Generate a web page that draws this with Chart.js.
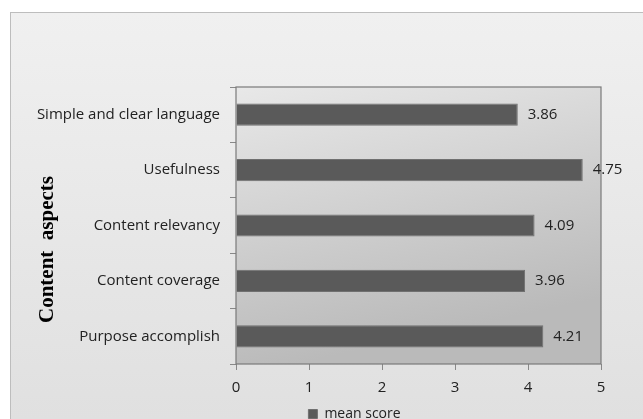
<html><head><meta charset="utf-8">
<script src="https://cdn.jsdelivr.net/npm/chart.js@4.4.0/dist/chart.umd.min.js"></script>
<style>
 body { margin:0; background:#fff; }
 #wrap { position:relative; width:643px; height:419px; }
</style>
</head>
<body>
<div id="wrap"><canvas id="myChart" width="643" height="419"></canvas></div>
<script>
var categories = ['Simple and clear language', 'Usefulness', 'Content relevancy', 'Content coverage', 'Purpose accomplish'];
var meanScore = [3.86, 4.75, 4.09, 3.96, 4.21];
var xTicks = [0, 1, 2, 3, 4, 5];
var axisTitle = 'Content  aspects';

// panel background, plot area shading and frame
var backdrop = {
  id: 'backdrop',
  afterLayout: function(chart) {
    // legend sits under the middle of the plot, not of the canvas
    chart.legend.left += 49;
    chart.legend.right += 49;
  },
  beforeDraw: function(chart) {
    var c = chart.ctx, a = chart.chartArea;
    c.save();
    var g0 = c.createLinearGradient(0, 12, 0, 419);
    g0.addColorStop(0, '#f0f0f0');
    g0.addColorStop(1, '#e0e0e0');
    c.fillStyle = g0;
    c.fillRect(10, 12, 640, 420);
    c.strokeStyle = '#bdbdbd';
    c.lineWidth = 1;
    c.strokeRect(10.5, 12.5, 640, 420);
    var g = c.createLinearGradient(a.left, a.top, a.left + 60, a.bottom);
    g.addColorStop(0, '#e8e8e8');
    g.addColorStop(1, '#bababa');
    c.fillStyle = g;
    c.fillRect(a.left, a.top, a.right - a.left, a.bottom - a.top);
    // y axis title, a little below the plot centre as in the original
    c.translate(48, (a.top + a.bottom) / 2 + 24);
    c.rotate(-Math.PI / 2);
    c.fillStyle = '#000';
    c.font = 'bold 21px "Liberation Serif"';
    c.textAlign = 'center';
    c.textBaseline = 'middle';
    c.fillText(axisTitle, 0, 0);
    c.restore();
  },
  afterDatasetsDraw: function(chart) {
    var c = chart.ctx, a = chart.chartArea;
    c.save();
    c.strokeStyle = '#7a7a7a';
    c.lineWidth = 1.2;
    c.strokeRect(a.left, a.top, a.right - a.left, a.bottom - a.top);
    // value labels
    c.fillStyle = '#222';
    c.font = '15px "Open Sans"';
    c.textBaseline = 'middle';
    chart.getDatasetMeta(0).data.forEach(function(bar, i) {
      c.fillText(meanScore[i].toFixed(2), bar.x + 10, bar.y);
    });
    c.restore();
  }
};

var ctx = document.getElementById('myChart');
var myChart = new Chart(ctx, {
  type: 'bar',
  data: {
    labels: categories,
    datasets: [{
      label: 'mean score',
      data: meanScore,
      backgroundColor: '#5a5a5a',
      borderColor: '#707070',
      borderWidth: 1,
      categoryPercentage: 0.8,
      barPercentage: 0.5
    }]
  },
  options: {
    indexAxis: 'y',
    responsive: false,
    animation: false,
    layout: { padding: { left: 10, right: 42, top: 87, bottom: -12 } },
    plugins: {
      tooltip: { enabled: false },
      legend: {
        position: 'bottom',
        labels: {
          boxWidth: 9, boxHeight: 9, color: '#222',
          font: { family: 'Open Sans', size: 14 },
          padding: 4
        }
      }
    },
    scales: {
      x: {
        min: 0, max: 5,
        afterBuildTicks: function(s) { s.ticks = xTicks.map(function(v) { return { value: v }; }); },
        afterFit: function(s) { s.height = s.height - 3; },
        grid: { drawOnChartArea: false, tickLength: 6, color: '#888' },
        border: { display: false },
        ticks: { color: '#222', font: { family: 'Open Sans', size: 15 }, padding: 9 }
      },
      y: {
        afterFit: function(s) { s.width = 226; },
        grid: { drawOnChartArea: false, tickLength: 6, color: '#888', offset: true },
        border: { display: false },
        ticks: { color: '#222', font: { family: 'Open Sans', size: 15 }, padding: 10 }
      }
    }
  },
  plugins: [backdrop]
});
</script>
</body></html>
